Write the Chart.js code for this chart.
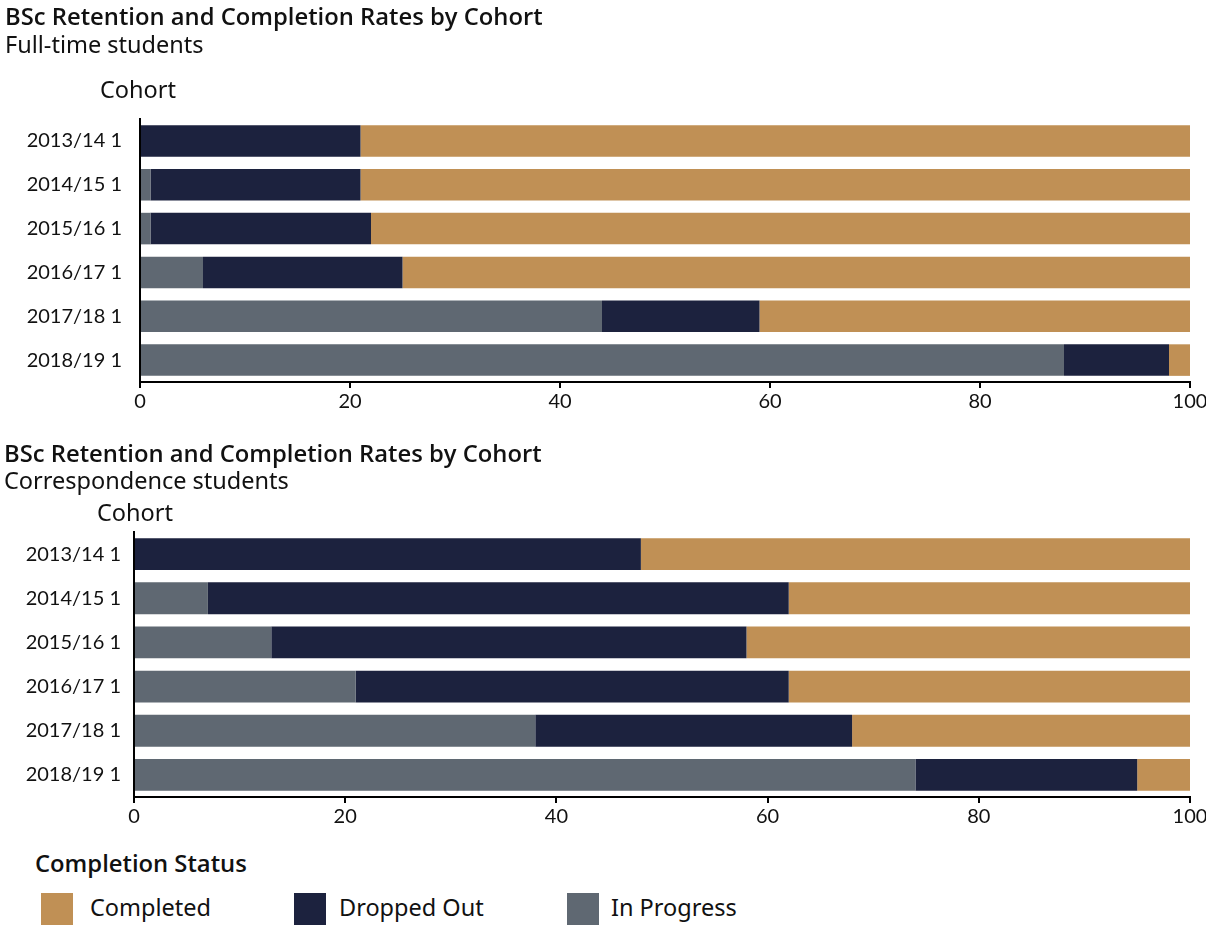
<!DOCTYPE html>
<html>
<head>
<meta charset="utf-8">
<script src="https://cdn.jsdelivr.net/npm/chart.js@4.4.1/dist/chart.umd.min.js"></script>
<style>
    body { margin: 0; background: #fff; font-family: "Noto Sans", sans-serif; color: #111; }
    #page { position: relative; width: 1206px; height: 925px; overflow: hidden; }
    .txt { position: absolute; white-space: nowrap; line-height: 24px; font-size: 23.5px; }
    .titulo { font-family: "Open Sans", sans-serif; font-weight: 600; font-size: 23.8px; }
    canvas { position: absolute; left: 0; }
    .cuadro { position: absolute; width: 32px; height: 32px; }
</style>
</head>
<body>
<div id="page">
    <canvas id="grafico-tiempo-completo" width="1206" height="425" style="top:0px"></canvas>
    <canvas id="grafico-correspondencia" width="1206" height="411" style="top:426px"></canvas>

    <div class="txt titulo" style="left:5px; top:4px">BSc Retention and Completion Rates by Cohort</div>
    <div class="txt" style="left:5px; top:32px">Full-time students</div>
    <div class="txt" style="left:100px; top:77px">Cohort</div>

    <div class="txt titulo" style="left:4px; top:441px">BSc Retention and Completion Rates by Cohort</div>
    <div class="txt" style="left:4px; top:468px">Correspondence students</div>
    <div class="txt" style="left:97px; top:500px">Cohort</div>

    <div class="txt titulo" style="left:35px; top:851px">Completion Status</div>
    <div id="leyenda"></div>
</div>
<script>
var cohorts = ["2013/14 1", "2014/15 1", "2015/16 1", "2016/17 1", "2017/18 1", "2018/19 1"];
var xTicks = [0, 20, 40, 60, 80, 100];

var seriesNames = ["Completed", "Dropped Out", "In Progress"];
var seriesColors = ["#c09055", "#1c223e", "#5f6872"];

// full-time students (%)
var ftInProgress = [0, 1, 1, 6, 44, 88];
var ftDroppedOut = [21, 20, 21, 19, 15, 10];
var ftCompleted = [79, 79, 78, 75, 41, 2];

// correspondence students (%)
var corrInProgress = [0, 7, 13, 21, 38, 74];
var corrDroppedOut = [48, 55, 45, 41, 30, 21];
var corrCompleted = [52, 38, 42, 38, 32, 5];

function crearGrafico(id, inProgress, droppedOut, completed, top, axisHeight, axisWidth, labelPad) {
    const ctx = document.getElementById(id);
    return new Chart(ctx, {
        type: 'bar',
        data: {
            labels: cohorts,
            datasets: [{
                label: seriesNames[2],
                data: inProgress,
                backgroundColor: seriesColors[2]
            }, {
                label: seriesNames[1],
                data: droppedOut,
                backgroundColor: seriesColors[1]
            }, {
                label: seriesNames[0],
                data: completed,
                backgroundColor: seriesColors[0]
            }]
        },
        options: {
            indexAxis: 'y',
            responsive: false,
            animation: false,
            datasets: {
                bar: {
                    categoryPercentage: 1,
                    barPercentage: 0.72
                }
            },
            layout: {
                padding: { top: top, right: 16, left: 0, bottom: 0 }
            },
            plugins: {
                legend: { display: false },
                tooltip: { enabled: false }
            },
            scales: {
                x: {
                    stacked: true,
                    min: 0,
                    max: 100,
                    afterBuildTicks: function (scale) {
                        scale.ticks = xTicks.map(function (v) { return { value: v }; });
                    },
                    afterFit: function (scale) {
                        scale.height = axisHeight;
                        scale.paddingLeft = 0;
                        scale.paddingRight = 0;
                    },
                    grid: {
                        drawOnChartArea: false,
                        drawTicks: true,
                        tickLength: 6,
                        color: '#000',
                        lineWidth: 2
                    },
                    border: { display: true, color: '#000', width: 2 },
                    ticks: {
                        color: '#111',
                        padding: 2,
                        maxRotation: 0,
                        font: { family: 'Lato', size: 20 }
                    }
                },
                y: {
                    stacked: true,
                    afterFit: function (scale) {
                        scale.width = axisWidth;
                    },
                    grid: { display: false, drawTicks: false },
                    border: { display: true, color: '#000', width: 2 },
                    ticks: {
                        color: '#111',
                        padding: labelPad,
                        font: { family: 'Lato', size: 20 }
                    }
                }
            }
        }
    });
}

crearGrafico("grafico-tiempo-completo", ftInProgress, ftDroppedOut, ftCompleted, 119, 43, 140, 18);
crearGrafico("grafico-correspondencia", corrInProgress, corrDroppedOut, corrCompleted, 106, 40, 134, 13);

// leyenda
var posCuadro = [41, 294, 567];
var posTexto = [90, 339, 611];
var leyenda = document.getElementById("leyenda");
for (var i = 0; i < seriesNames.length; i++) {
    var cuadro = document.createElement("div");
    cuadro.className = "cuadro";
    cuadro.style.left = posCuadro[i] + "px";
    cuadro.style.top = "893px";
    cuadro.style.background = seriesColors[i];
    leyenda.appendChild(cuadro);

    var texto = document.createElement("div");
    texto.className = "txt";
    texto.style.left = posTexto[i] + "px";
    texto.style.top = "895px";
    texto.innerHTML = seriesNames[i];
    leyenda.appendChild(texto);
}
</script>
</body>
</html>
